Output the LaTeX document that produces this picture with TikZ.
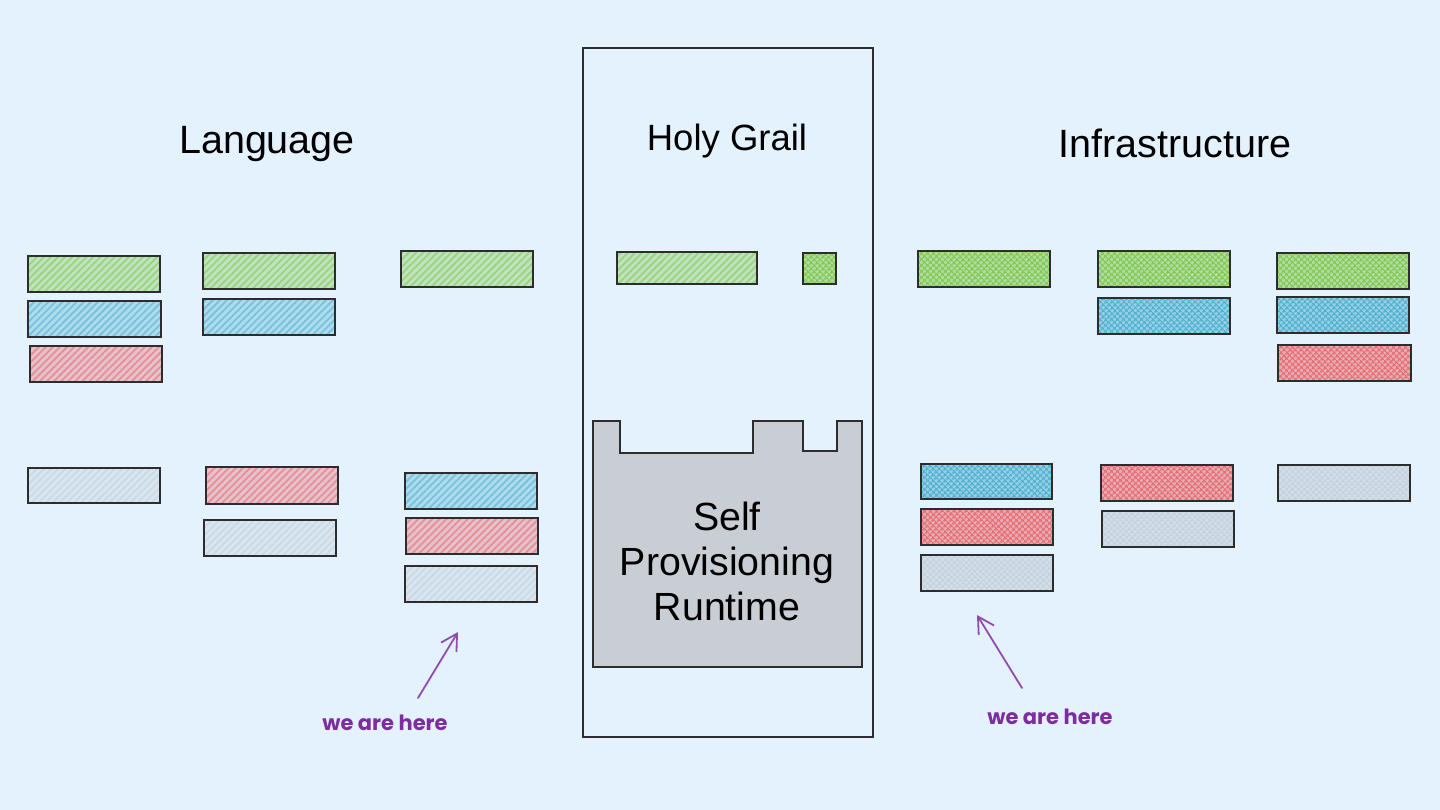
\documentclass[tikz,border=0pt]{standalone}
\usepackage{fontspec}
\setmainfont{Liberation Sans}
\newfontfamily\handfont{Poppins}
\usetikzlibrary{patterns.meta,arrows.meta}
\definecolor{bgc}{RGB}{228,242,254}
\definecolor{grn}{RGB}{125,200,75}
\definecolor{blu}{RGB}{75,175,205}
\definecolor{rd}{RGB}{232,105,110}
\definecolor{gry}{RGB}{195,207,218}
\definecolor{linec}{RGB}{45,45,45}
\definecolor{castlec}{RGB}{201,205,212}
\definecolor{purp}{RGB}{125,45,160}
\newcommand\mybox[6]{\node[#6, minimum width={#4-#2}, minimum height={#5-#3}] (#1) at ({(#2+#4)/2},{(#3+#5)/2}) {};}
\begin{document}
\begin{tikzpicture}[x=1pt,y=-1pt,
  lbox/.style={draw=linec, line width=1.4pt, inner sep=0pt, outer sep=0pt,
     preaction={fill=#1!35!bgc},
     pattern={Lines[angle=45,distance=5pt,line width=1.8pt]}, pattern color=#1!72!bgc},
  rbox/.style={draw=linec, line width=1.4pt, inner sep=0pt, outer sep=0pt,
     preaction={fill=#1!50!bgc},
     pattern={Hatch[angle=45,distance=4pt,line width=1.4pt]}, pattern color=#1!95!bgc},
  title/.style={font=\fontsize{39.5}{46}\selectfont, text=black},
  note/.style={font=\handfont\fontsize{21}{25}\selectfont\bfseries, text=purp},
  pointer/.style={draw=purp!85!white, line width=1.8pt, line cap=round,
     -{Straight Barb[length=16pt,width=18pt,line width=1.8pt]}}
]
\fill[bgc] (0,0) rectangle (1440,810);
\useasboundingbox (0,0) rectangle (1440,810);

% titles
\node[title] (lang) at (267,144) {Language};
\node[title, font=\fontsize{36.5}{43}\selectfont] (grail) at (727,141) {Holy Grail};
\node[title] (infra) at (1175,143) {Infrastructure};

% center frame
\node[draw=linec, line width=1.2pt, minimum width=290, minimum height=689, inner sep=0pt] (frame) at (728,392.5) {};

% left side
\mybox{l1a}{28}{256}{160}{292}{lbox=grn}
\mybox{l1b}{28}{301}{161}{337}{lbox=blu}
\mybox{l1c}{30}{346}{162}{382}{lbox=rd}
\mybox{l1d}{28}{468}{160}{503}{lbox=gry}
\mybox{l2a}{203}{253}{335}{289}{lbox=grn}
\mybox{l2b}{203}{299}{335}{335}{lbox=blu}
\mybox{l2c}{206}{467}{338}{504}{lbox=rd}
\mybox{l2d}{204}{520}{336}{556}{lbox=gry}
\mybox{l3a}{401}{251}{533}{287}{lbox=grn}
\mybox{l3b}{405}{473}{537}{509}{lbox=blu}
\mybox{l3c}{406}{518}{538}{554}{lbox=rd}
\mybox{l3d}{405}{566}{537}{602}{lbox=gry}

% holy grail
\mybox{g1}{617}{252}{757}{284}{lbox=grn}
\mybox{g2}{803}{253}{836}{284}{rbox=grn}

% right side
\mybox{r1a}{918}{251}{1050}{287}{rbox=grn}
\mybox{r1b}{921}{464}{1052}{499}{rbox=blu}
\mybox{r1c}{921}{509}{1053}{545}{rbox=rd}
\mybox{r1d}{921}{555}{1053}{591}{rbox=gry}
\mybox{r2a}{1098}{251}{1230}{287}{rbox=grn}
\mybox{r2b}{1098}{298}{1230}{334}{rbox=blu}
\mybox{r2c}{1101}{465}{1233}{501}{rbox=rd}
\mybox{r2d}{1102}{511}{1234}{547}{rbox=gry}
\mybox{r3a}{1277}{253}{1409}{289}{rbox=grn}
\mybox{r3b}{1277}{297}{1409}{333}{rbox=blu}
\mybox{r3c}{1278}{345}{1411}{381}{rbox=rd}
\mybox{r3d}{1278}{465}{1410}{501}{rbox=gry}

% castle
\draw[fill=castlec, draw=linec, line width=1.6pt, line join=miter]
  (593,421) -- (620,421) -- (620,453) -- (753,453) -- (753,421) -- (803,421)
  -- (803,451) -- (837,451) -- (837,421) -- (862,421) -- (862,667) -- (593,667) -- cycle;
\node[align=center, font=\fontsize{39.3}{45}\selectfont, text=black] (spr) at (727,561) {Self\\Provisioning\\Runtime};

% notes
\node[note] (we1) at (385,723) {we are here};
\node[note] (we2) at (1050,717) {we are here};
\coordinate (p1s) at (418,698);
\coordinate (p1e) at (458,632);
\coordinate (p2s) at (1022,688);
\coordinate (p2e) at (977,615);
\draw[pointer] (p1s) -- (p1e);
\draw[pointer] (p2s) -- (p2e);
\end{tikzpicture}
\end{document}
